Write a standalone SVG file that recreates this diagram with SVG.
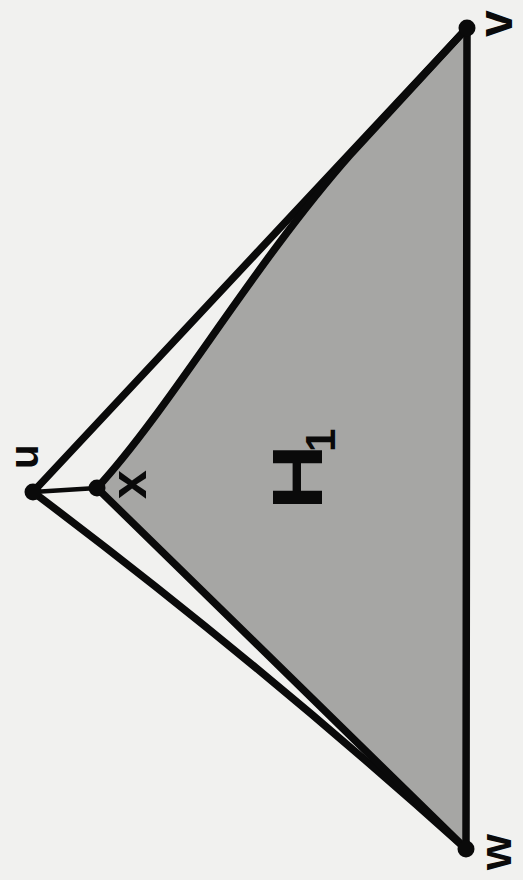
<svg xmlns="http://www.w3.org/2000/svg" width="523" height="880" viewBox="0 0 523 880">
<style>
.edge{fill:none;stroke:#0a0a0a;stroke-width:7.5;stroke-linecap:round;stroke-linejoin:round}
.thin{stroke-width:4.5}
.dot{fill:#0a0a0a}
.lbl{font-family:"Liberation Sans",Arial,sans-serif;font-weight:bold;fill:#0a0a0a}
.region{fill:#a6a6a4;stroke:none}
</style>
<rect x="0" y="0" width="523" height="880" fill="#f1f1ef"/>
<g id="region-H1">
<path class="region" d="M97,488 C172,406 252,266 350,155 L467,28 L467,849 Q275,662 97,488 Z"/>
<text class="lbl" font-size="70" transform="translate(322,510) rotate(-90)" textLength="66" lengthAdjust="spacingAndGlyphs">H</text>
<text class="lbl" font-size="42" transform="translate(335,452) rotate(-90)">1</text>
</g>
<g id="connectors">
<path class="edge" d="M33,492 L467,28"/>
<path class="edge" d="M97,488 C172,406 252,266 350,155 L467,28"/>
<path class="edge" d="M467,28 L466,849"/>
<path class="edge" d="M33,492 Q255,659 466,849"/>
<path class="edge" d="M97,488 Q275,662 466,849"/>
<path class="edge thin" d="M33,492 L97,488"/>
</g>
<g id="node-v">
<circle class="dot" cx="467" cy="28" r="8.5"/>
<text class="lbl" font-size="48" transform="translate(512,37) rotate(-90)">v</text>
</g>
<g id="node-u">
<circle class="dot" cx="33" cy="492" r="8.5"/>
<text class="lbl" font-size="40" transform="translate(38,469) rotate(-90)">u</text>
</g>
<g id="node-x">
<circle class="dot" cx="97" cy="488" r="8.5"/>
<text class="lbl" font-size="52" transform="translate(146,499) rotate(-90)">x</text>
</g>
<g id="node-w">
<circle class="dot" cx="466" cy="849" r="8.5"/>
<text class="lbl" font-size="44" transform="translate(511,870) rotate(-90)" textLength="36" lengthAdjust="spacingAndGlyphs">w</text>
</g>
</svg>
